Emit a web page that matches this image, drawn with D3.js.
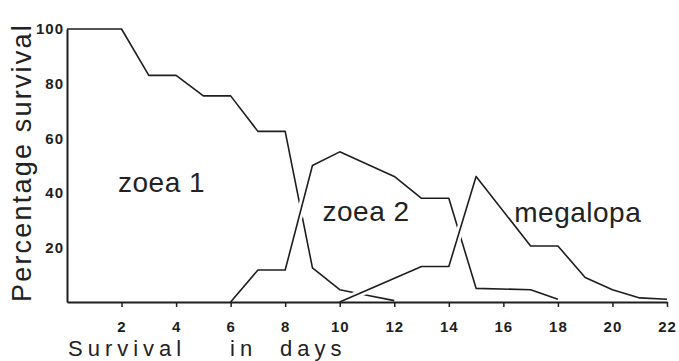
<!DOCTYPE html>
<html>
<head>
<meta charset="utf-8">
<script src="https://cdn.jsdelivr.net/npm/d3@7"></script>
<style>
body { margin: 0; background: #fff; }
svg { display: block; font-family: "Liberation Sans", Arial, sans-serif; }
</style>
</head>
<body>
<div id="chart"></div>
<script>
const width = 679;
const height = 361;

// tick labels
const xTicks = [2, 4, 6, 8, 10, 12, 14, 16, 18, 20, 22];
const yTicks = [20, 40, 60, 80, 100];

// survival (%), by day
const zoea1Days = [0, 2, 3, 4, 5, 6, 7, 8, 9, 10, 11, 12];
const zoea1Values = [100, 100, 83, 83, 75.5, 75.5, 62.5, 62.5, 12.5, 4.5, 2.5, 0.5];
const zoea2Days = [6, 7, 8, 9, 10, 12, 13, 14, 15, 17, 18];
const zoea2Values = [0, 11.7, 11.7, 50, 55, 46, 38, 38, 5, 4.5, 1];
const megalopaDays = [10, 13, 14, 15, 17, 18, 19, 20, 21, 22];
const megalopaValues = [0, 13, 13, 46, 20.5, 20.5, 9, 4.5, 1.5, 1];

const stages = ['zoea 1', 'zoea 2', 'megalopa'];

const series = [
  { name: stages[0], pts: zoea1Days.map((d, i) => [d, zoea1Values[i]]), at: [1.87, 40.3] },
  { name: stages[1], pts: zoea2Days.map((d, i) => [d, zoea2Values[i]]), at: [9.37, 29.7] },
  { name: stages[2], pts: megalopaDays.map((d, i) => [d, megalopaValues[i]]), at: [16.4, 29.3] },
];

const svg = d3.select('#chart')
  .append('svg')
    .attr('width', width)
    .attr('height', height);

const x = d3.scaleLinear().domain([0, 22]).range([67, 667]);
const y = d3.scaleLinear().domain([0, 100]).range([302, 29]);

const line = d3.line()
  .x(d => x(d[0]))
  .y(d => y(d[1]));

// each curve gets a white halo so the one drawn later breaks the earlier one where they cross
series.forEach(s => {
  svg.append('path')
    .attr('d', line(s.pts))
    .style('fill', 'none')
    .style('stroke', '#fff')
    .style('stroke-width', 7);
  svg.append('path')
    .attr('d', line(s.pts))
    .style('fill', 'none')
    .style('stroke', '#1e1e1e')
    .style('stroke-width', 1.6)
    .style('stroke-linejoin', 'round');
});

const xAxis = svg.append('g')
  .attr('transform', `translate(0,${y(0)})`)
  .call(d3.axisBottom(x).tickValues(xTicks).tickSize(5).tickSizeOuter(0).tickPadding(14));

const yAxis = svg.append('g')
  .attr('transform', `translate(${x(0)},0)`)
  .call(d3.axisLeft(y).tickValues(yTicks).tickSize(0).tickSizeOuter(0).tickPadding(3));

[xAxis, yAxis].forEach(g => {
  g.select('.domain').style('stroke', '#1e1e1e').style('stroke-width', 2);
  g.selectAll('.tick line').style('stroke', '#1e1e1e').style('stroke-width', 1.5);
  g.selectAll('.tick text')
    .style('font-size', '15px')
    .style('font-weight', 'bold')
    .style('letter-spacing', '1px')
    .style('fill', '#1e1e1e');
});

// stage names
svg.selectAll('.stage')
  .data(series)
  .enter().append('text')
    .attr('class', 'stage')
    .attr('x', d => x(d.at[0]))
    .attr('y', d => y(d.at[1]))
    .style('font-size', '28px')
    .style('letter-spacing', '0.5px')
    .style('fill', '#222')
    .text(d => d.name);

// axis titles
const xTitle = svg.append('g')
  .style('font-size', '22px')
  .style('letter-spacing', '5px')
  .style('fill', '#222');
xTitle.append('text').attr('x', 68).attr('y', 356).text('Survival');
xTitle.append('text').attr('x', 230).attr('y', 356).text('in');
xTitle.append('text').attr('x', 280).attr('y', 356).text('days');

svg.append('text')
  .attr('transform', 'translate(31,302) rotate(-90)')
  .style('font-size', '27px')
  .style('letter-spacing', '2.2px')
  .style('fill', '#222')
  .text('Percentage survival');
</script>
</body>
</html>
